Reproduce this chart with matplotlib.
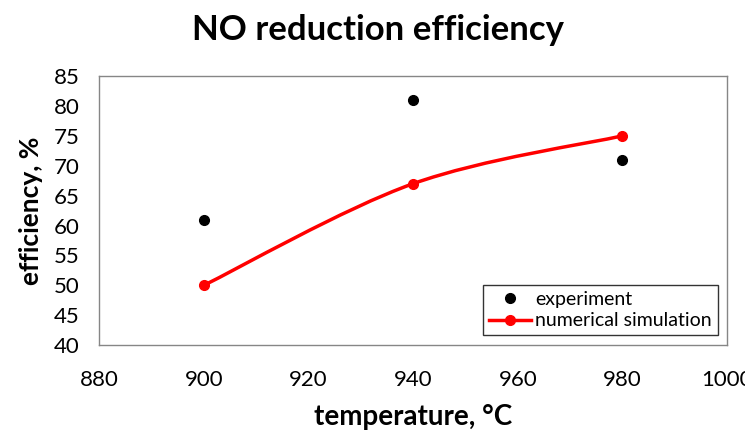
import numpy as np
import matplotlib
matplotlib.use('Agg')
import matplotlib.pyplot as plt
from matplotlib.path import Path
from matplotlib.patches import PathPatch
from matplotlib.lines import Line2D

plt.rcParams['font.family'] = ['Lato', 'DejaVu Sans']

temp_exp = [900, 940, 980]
eff_exp = [61, 81, 71]
temp_sim = [900, 940, 980]
eff_sim = [50, 67, 75]

fig = plt.figure(figsize=(7.45, 4.32), dpi=100)
ax = fig.add_axes([0.133, 0.201, 0.843, 0.623])
ax.set_xlim(880, 1000)
ax.set_ylim(40, 85)
ax.set_xticks(range(880, 1001, 20))
ax.set_yticks(range(40, 86, 5))
ax.tick_params(length=0, labelsize=16)
ax.tick_params(axis='x', pad=18)
ax.tick_params(axis='y', pad=14)
for s in ax.spines.values():
    s.set_color('#868686')
    s.set_linewidth(1)

# smoothed line like excel (catmull-rom -> bezier), computed in screen-ish space
sx = 0.843 * 745 / (1000 - 880)
sy = 0.623 * 432 / (85 - 40)
P = np.column_stack([np.array(temp_sim) * sx, np.array(eff_sim) * sy])
verts = [P[0]]
codes = [Path.MOVETO]
n = len(P)
for i in range(n - 1):
    p0 = P[i - 1] if i > 0 else P[i]
    p1 = P[i]
    p2 = P[i + 1]
    p3 = P[i + 2] if i + 2 < n else P[i + 1]
    c1 = p1 + (p2 - p0) / 6
    c2 = p2 - (p3 - p1) / 6
    verts += [c1, c2, p2]
    codes += [Path.CURVE4] * 3
verts = np.array(verts)
verts[:, 0] /= sx
verts[:, 1] /= sy
ax.add_patch(PathPatch(Path(verts, codes), facecolor='none', edgecolor='red', lw=2.5, zorder=3))
ax.plot(temp_sim, eff_sim, 'o', color='red', ms=7, zorder=4)
ax.plot(temp_exp, eff_exp, 'o', color='black', ms=7, zorder=4)

handles = [Line2D([], [], marker='o', ls='none', color='black', ms=7),
           Line2D([], [], marker='o', color='red', lw=2.5, ms=7)]
leg = ax.legend(handles, ['experiment', 'numerical simulation'], loc='lower right',
                fontsize=14, frameon=True, fancybox=False, borderpad=0.3,
                handlelength=2.2, handletextpad=0.2, labelspacing=0.25,
                borderaxespad=0, bbox_to_anchor=(0.985, 0.037))
leg.get_frame().set_edgecolor('black')
leg.get_frame().set_linewidth(1)

ax.set_xlabel('temperature, °C', fontsize=20, fontweight='bold', labelpad=10)
ax.set_ylabel('efficiency, %', fontsize=19, fontweight='bold', labelpad=8)
fig.text(0.508, 0.93, 'NO reduction efficiency', ha='center', va='center',
         fontsize=25, fontweight='bold')

fig.savefig('out.png', dpi=100)
